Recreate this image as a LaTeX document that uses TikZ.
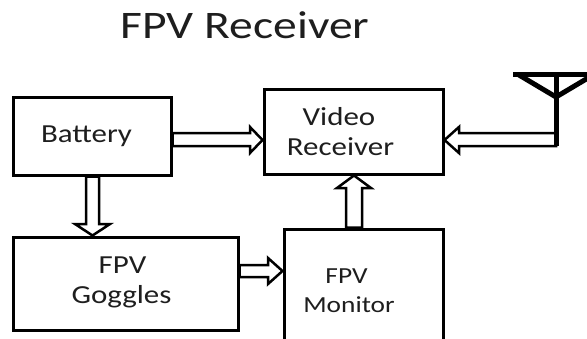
\documentclass[tikz,border=0pt]{standalone}
\usepackage{fontspec}
\usepackage{graphicx}
\setmainfont{Carlito}
\usetikzlibrary{calc}
\definecolor{ink}{HTML}{1E1E1E}
\newcommand{\wide}[1]{\scalebox{1.19}[1]{#1}}
\begin{document}
\begin{tikzpicture}[x=1pt,y=-1pt,
  box/.style={draw=black, line width=3pt, inner sep=0pt, minimum width=#1},
  lbl/.style={anchor=base, text=ink, inner sep=0pt, font=\fontsize{26}{30}\selectfont},
  lblsm/.style={anchor=base, text=ink, inner sep=0pt, font=\fontsize{23}{27}\selectfont},
  barrow/.style={draw=black, fill=white, line width=2.5pt, line join=miter, miter limit=20},
  ant/.style={draw=black, line width=5pt, line join=miter}]
\useasboundingbox (0,0) rectangle (587,338);
\fill[white] (0,0) rectangle (587,338);
\begin{scope}
\clip (0,0) rectangle (587,338);
% title
\node[anchor=base, text=ink, inner sep=0pt, font=\fontsize{39}{45}\selectfont] (title) at (245,38) {\scalebox{1.22}[1]{FPV Receiver}};
% boxes
\node[box=158pt, minimum height=78pt] (bat) at (92,136) {};
\node[box=179pt, minimum height=85pt] (vr) at (353.5,131.5) {};
\node[box=225pt, minimum height=93pt] (gog) at (125.5,283.5) {};
\node[box=159pt, minimum height=121pt] (mon) at (363.5,289.5) {};
% texts
\node[lbl] (tbat) at (86.5,142) {\wide{Battery}};
\node[lbl] (tvr1) at (339,125) {\wide{Video}};
\node[lbl] (tvr2) at (340.5,155) {\wide{Receiver}};
\node[lbl] (tgog1) at (122.5,273) {\wide{FPV}};
\node[lbl] (tgog2) at (121.5,303) {\wide{Goggles}};
\node[lblsm] (tmon1) at (346.5,283) {\wide{FPV}};
\node[lblsm] (tmon2) at (349,312) {\wide{Monitor}};
% antenna anchor
\coordinate (antbase) at (556,140);
% block arrows
\draw[barrow] (bat.east |- 0,133) -- (250,133) -- (250,127) -- (vr.west |- 0,140)
  -- (250,153) -- (250,146) -- (bat.east |- 0,146) -- cycle;
\draw[barrow] (86,0 |- bat.south) -- (86,224) -- (75,224) -- (92.5,0 |- gog.north)
  -- (110,224) -- (99,224) -- (99,0 |- bat.south) -- cycle;
\draw[barrow] (gog.east |- 0,265) -- (268,265) -- (268,258) -- (mon.west |- 0,271)
  -- (268,284) -- (268,277) -- (gog.east |- 0,277) -- cycle;
\draw[barrow] (346,0 |- mon.north) -- (346,188) -- (337,188) -- (354,0 |- vr.south)
  -- (371,188) -- (362,188) -- (362,0 |- mon.north) -- cycle;
\draw[barrow] (antbase |- 0,133) -- (459,133) -- (459,127) -- (vr.east |- 0,140)
  -- (459,153) -- (459,146) -- (antbase |- 0,146) -- cycle;
% antenna
\draw[ant] (antbase |- 0,146) -- (556,74);
\draw[ant] (513,74.5) -- (592,74.5);
\draw[ant] (519,75) -- (556,97) -- (593,75);
% redraw box borders on top
\node[box=158pt, minimum height=78pt] at (bat) {};
\node[box=179pt, minimum height=85pt] at (vr) {};
\node[box=225pt, minimum height=93pt] at (gog) {};
\node[box=159pt, minimum height=121pt] at (mon) {};
\end{scope}
\end{tikzpicture}
\end{document}
